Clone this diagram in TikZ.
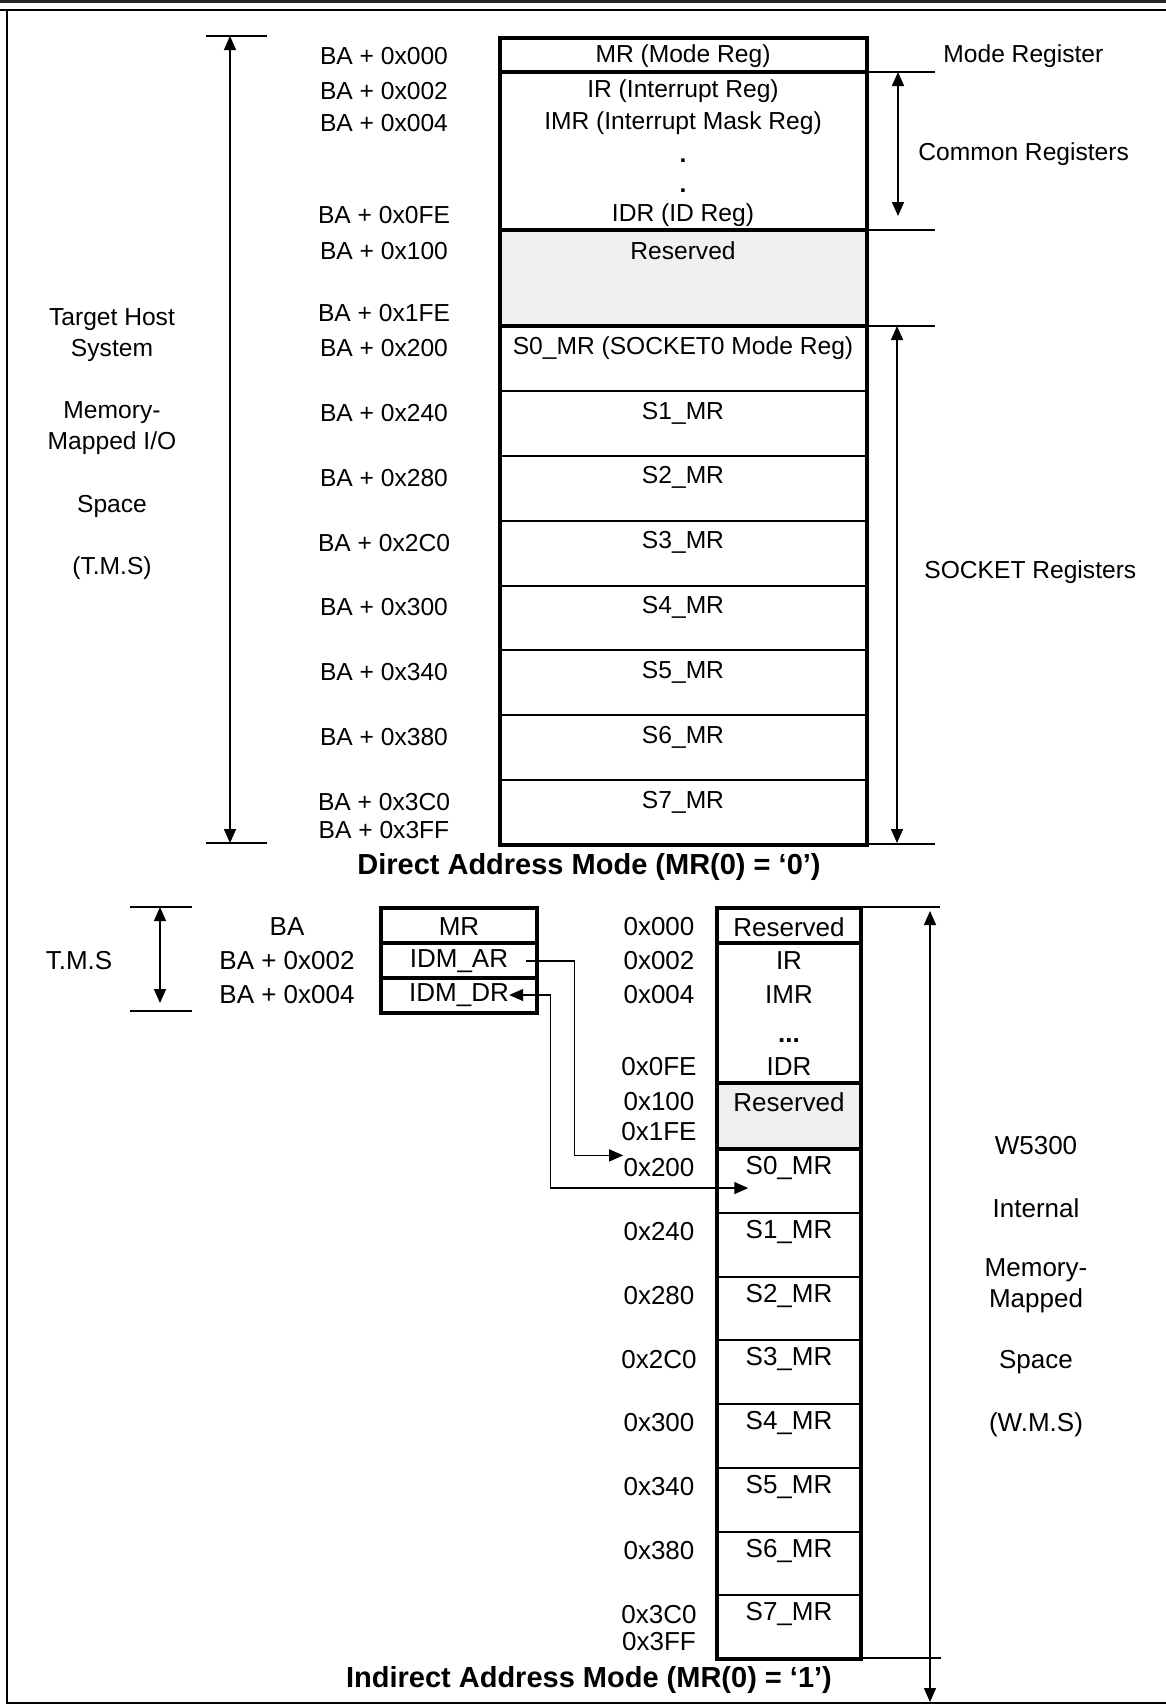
\documentclass[tikz,border=0pt]{standalone}
\usepackage{fontspec}
\setmainfont{Liberation Sans}
\usetikzlibrary{arrows.meta,calc,positioning}

\begin{document}
\begin{tikzpicture}[x=0.5pt,y=-0.5pt,>={Triangle[length=7pt,width=6pt]},line join=miter,
  txt/.style={inner sep=0pt,yshift=-1pt,font=\fontsize{12.3}{15.5}\selectfont},
  txtb/.style={inner sep=0pt,font=\fontsize{13}{15.5}\selectfont},
  ttl/.style={inner sep=0pt,font=\fontsize{14.5}{17}\selectfont\bfseries},
  outer/.style={line width=2.2pt},
  grp/.style={line width=2pt},
  sep/.style={line width=1pt},
  grpmark/.style={line width=1.3pt},
  lead/.style={line width=0.7pt}]
\useasboundingbox (0,0) rectangle (1166,1704);
% --- page frame
\draw[line width=1.5pt,black!85] (0,1.5) -- (1166,1.5);
\draw[line width=1pt] (0,10) -- (1166,10);
\draw[line width=1.3pt] (7,10) -- (7,1703) -- (1166,1703);
% --- direct address mode: register map
\fill[gray!12] (500,230) rectangle (867,326);
\foreach \k in {1,...,7} {\draw[sep] (500,{326+64.875*\k}) -- (867,{326+64.875*\k});}
\draw[grp] (500,72) -- (867,72) (500,230) -- (867,230) (500,326) -- (867,326);
\draw[outer] (500,38) rectangle (867,845);
\node[txt] (dmr) at (683,54) {MR (Mode Reg)};
\node[txt] (dir) at (683,89) {IR (Interrupt Reg)};
\node[txt] (dimr) at (683,121) {IMR (Interrupt Mask Reg)};
\node[txt] (ddot1) at (683,159) {\textbf{.}};
\node[txt] (ddot2) at (683,189) {\textbf{.}};
\node[txt] (didr) at (683,213) {IDR (ID Reg)};
\node[txt] (dres) at (683,249) {Reserved};
\node[txt] (ds0) at (683,346) {S0\_MR (SOCKET0 Mode Reg)};
\foreach \k in {1,...,7} {\node[txt] (ds\k) at (683,{346+64.875*\k}) {S\k\_MR};}
% addresses
\foreach \y/\a in {54/000,89/002,121/004,213/0FE,249/100,311/1FE,346/200,828/3FF}
  {\node[txt] (da\a) at (384,\y) {BA + 0x\a};}
\foreach \k/\a in {1/240,2/280,3/2C0,4/300,5/340,6/380,7/3C0}
  {\node[txt] (da\a) at (384,{346+64.875*\k}) {BA + 0x\a};}
% host side
\coordinate (htop) at (230,36); \coordinate (hbot) at (230,843);
\draw[lead] (206,36) -- (267,36) (206,843) -- (267,843);
\draw[lead,<->] (htop) -- (hbot);
\node[txt,align=center] (host) at (112,333) {Target Host\\System};
\node[txt,align=center] (mmio) at (112,426) {Memory-\\Mapped I/O};
\node[txt] (hspace) at (112,504) {Space};
\node[txt] (htms) at (112,566) {(T.M.S)};
% register groups
\draw[grpmark] (867,72) -- (935,72) (867,230) -- (935,230) (867,326) -- (935,326) (867,844) -- (935,844);
\draw[lead,<->] (898,72) -- (898,216);
\draw[lead,<->] (897,326) -- (897,843);
\node[txt,anchor=west] (lmode) at (943,54) {Mode Register};
\node[txt,anchor=west] (lcommon) at (918,152) {Common Registers};
\node[txt,anchor=west] (lsocket) at (924,570) {SOCKET Registers};
\node[ttl] (dtitle) at (589,867) {Direct Address Mode (MR(0) = `0')};
% --- indirect address mode: host registers
\node[txtb] (itms) at (79,961) {T.M.S};
\draw[lead] (130,907) -- (192,907) (130,1011) -- (192,1011);
\draw[lead,<->] (160,907) -- (160,1003);
\node[txtb] (hba) at (287,927) {BA};
\node[txtb] (hba2) at (287,961) {BA + 0x002};
\node[txtb] (hba4) at (287,995) {BA + 0x004};
\draw[outer] (381,943) -- (537,943) (381,978) -- (537,978);
\draw[outer] (381,908) rectangle (537,1013);
\node[txtb] (mr) at (459,927) {MR};
\node[txtb] (ar) at (459,961) {IDM\_AR};
\node[txtb] (dr) at (459,995) {IDM\_DR};
% --- W5300 internal map
\fill[gray!12] (717,1083) rectangle (861,1149);
\foreach \k in {1,...,7} {\draw[sep] (717,{1149+63.75*\k}) -- (861,{1149+63.75*\k});}
\draw[outer] (717,943) -- (861,943) (717,1083) -- (861,1083) (717,1149) -- (861,1149);
\draw[outer] (717,908) rectangle (861,1659);
\node[txtb] (ires0) at (789,927) {Reserved};
\node[txtb] (iir) at (789,961) {IR};
\node[txtb] (iimr) at (789,995) {IMR};
\node[txtb] (idots) at (789,1041) {\textbf{...}};
\node[txtb] (iidr) at (789,1067) {IDR};
\node[txtb] (ires1) at (789,1102) {Reserved};
\foreach \k in {0,...,7} {\node[txtb] (is\k) at (789,{1168+63.75*\k}) {S\k\_MR};}
\foreach \y/\a in {927/000,961/002,995/004,1067/0FE,1102/100,1132/1FE,1642/3FF}
  {\node[txtb] (ia\a) at (659,\y) {0x\a};}
\foreach \k/\a in {0/200,1/240,2/280,3/2C0,4/300,5/340,6/380,7/3C0}
  {\node[txtb] (ia\a) at (659,{1168+63.75*\k}) {0x\a};}
% W5300 space
\draw[lead] (861,907) -- (940,907) (861,1658) -- (941,1658);
\draw[lead,<->] (930,911) -- (930,1702);
\node[txtb] (wchip) at (1036,1146) {W5300};
\node[txtb] (wint) at (1036,1208) {Internal};
\node[txtb,align=center] (wmm) at (1036,1286) {Memory-\\Mapped};
\node[txtb] (wspace) at (1036,1362) {Space};
\node[txtb] (wwms) at (1036,1425) {(W.M.S)};
% indirect access paths
\draw[lead,->] ($(ar.east)+(17,0)$) -- ++(49,0) |- ($(ia200.north west)+(0,-3)$);
\draw[lead,<->] (dr.east) -- ++(41,0) |- ($(is0.south west)+(3,8)$);
\node[ttl] (ititle) at (589,1680) {Indirect Address Mode (MR(0) = `1')};
\end{tikzpicture}
\end{document}
